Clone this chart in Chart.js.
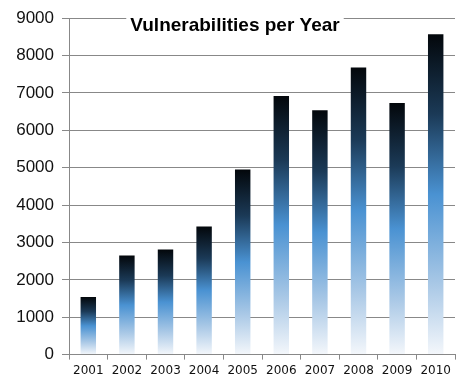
<!DOCTYPE html>
<html>
<head>
<meta charset="utf-8">
<script src="https://cdn.jsdelivr.net/npm/chart.js@4"></script>
<style>
  html, body { margin: 0; padding: 0; background: #fff; }
  #wrap { width: 465px; height: 386px; }
</style>
</head>
<body>
<div id="wrap"><canvas id="myChart" width="465" height="386"></canvas></div>
<script>
const years = ["2001", "2002", "2003", "2004", "2005", "2006", "2007", "2008", "2009", "2010"];
const vulns = [1540, 2650, 2810, 3430, 4950, 6920, 6540, 7680, 6730, 8570];
const yTicks = [0, 1000, 2000, 3000, 4000, 5000, 6000, 7000, 8000, 9000];

const ctx = document.getElementById("myChart").getContext("2d");

// each bar gets its own gradient, black at the top down to white at the base
function barGradient(context) {
  const chart = context.chart;
  const area = chart.chartArea;
  if (!area || context.type !== "data") return "#4a90d0";
  const y = chart.scales.y;
  const top = y.getPixelForValue(vulns[context.dataIndex]);
  const bottom = y.getPixelForValue(0);
  const g = chart.ctx.createLinearGradient(0, top, 0, bottom);
  g.addColorStop(0, "#03070b");
  g.addColorStop(0.25, "#1b3a57");
  g.addColorStop(0.5, "#4a92d2");
  g.addColorStop(0.78, "#a9c8e6");
  g.addColorStop(1, "#f4f7fb");
  return g;
}

const titlePlugin = {
  id: "innerTitle",
  afterDraw(chart) {
    const c = chart.ctx;
    const area = chart.chartArea;
    const text = "Vulnerabilities per Year";
    c.save();
    c.font = "bold 19px 'Liberation Sans', Arial, sans-serif";
    const w = c.measureText(text).width;
    const cx = area.left + 166;
    const cy = area.top + 8;
    c.fillStyle = "#fff";
    c.fillRect(cx - w / 2 - 4, cy - 12, w + 8, 24);
    c.fillStyle = "#000";
    c.textAlign = "center";
    c.textBaseline = "middle";
    c.fillText(text, cx, cy);
    c.restore();
  },
};

const config = {
  type: "bar",
  data: {
    labels: years,
    datasets: [
      {
        data: vulns,
        backgroundColor: barGradient,
        borderWidth: 0,
        barPercentage: 0.4,
        categoryPercentage: 1,
      },
    ],
  },
  options: {
    responsive: false,
    animation: false,
    layout: { padding: { top: 14, right: 10, left: 0, bottom: 4 } },
    plugins: {
      legend: { display: false },
      tooltip: { enabled: false },
      title: { display: false },
    },
    scales: {
      x: {
        grid: {
          offset: true,
          drawOnChartArea: false,
          drawTicks: true,
          tickLength: 5,
          color: "#888",
        },
        border: { color: "#888" },
        ticks: {
          color: "#111",
          font: { family: "'DejaVu Sans', sans-serif", size: 12 },
          padding: 4,
          maxRotation: 0,
        },
      },
      y: {
        min: 0,
        max: 9000,
        afterBuildTicks: (scale) => {
          scale.ticks = yTicks.map((v) => ({ value: v }));
        },
        grid: { color: "#888", tickLength: 7 },
        border: { color: "#888" },
        ticks: {
          color: "#111",
          font: { family: "'Liberation Sans', Arial, sans-serif", size: 17 },
          padding: 8,
          callback: (value) => String(value),
        },
        afterFit: (scale) => {
          scale.width = 69;
        },
      },
    },
  },
  plugins: [titlePlugin],
};

const myChart = new Chart(ctx, config);
</script>
</body>
</html>
